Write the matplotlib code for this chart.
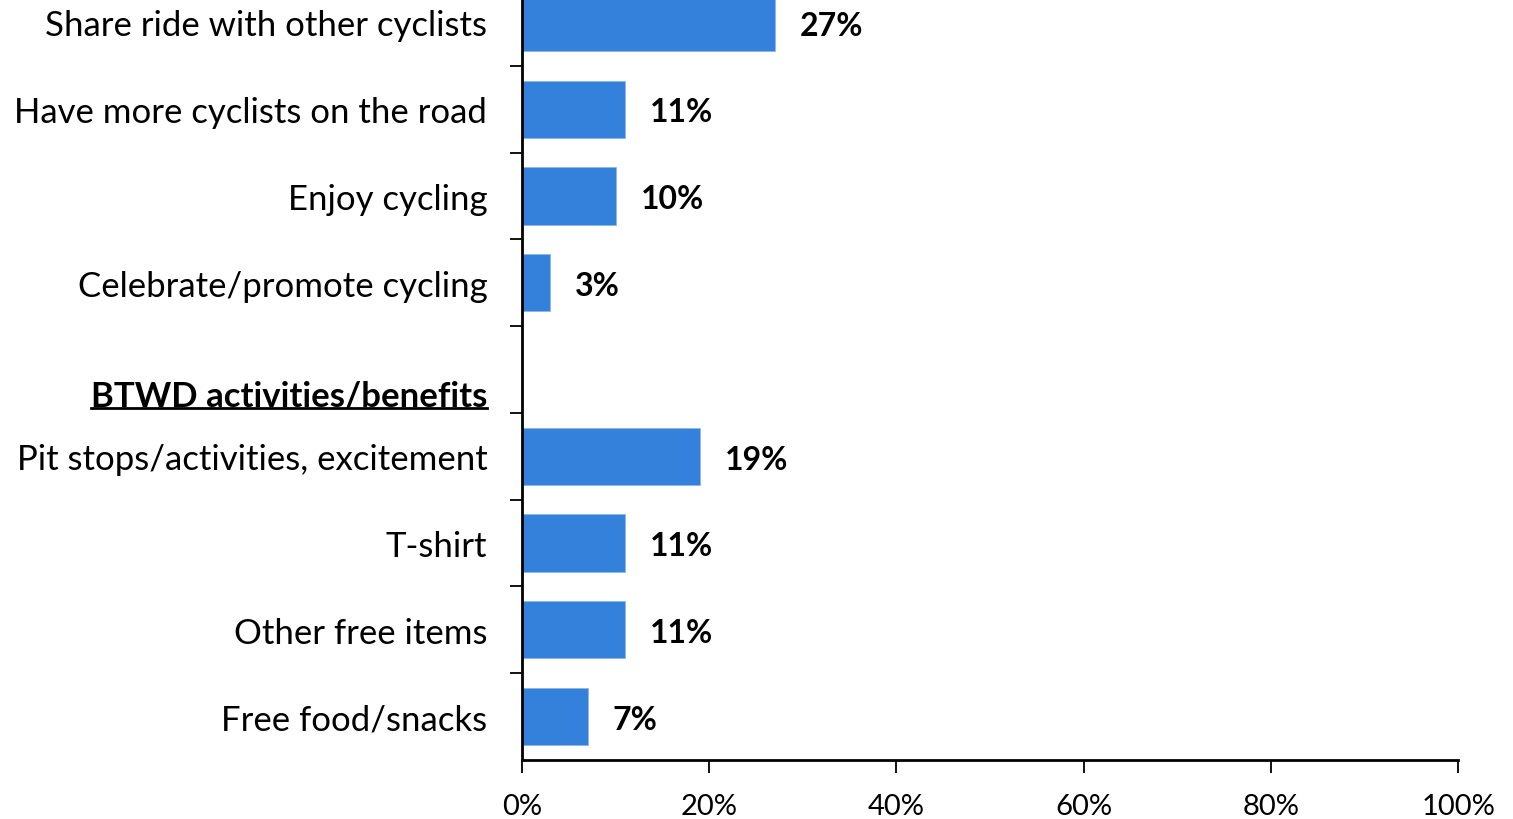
import numpy as np
import matplotlib.pyplot as plt
from matplotlib.lines import Line2D

categories = ['Share ride with other cyclists', 'Have more cyclists on the road',
              'Enjoy cycling', 'Celebrate/promote cycling',
              'BTWD activities/benefits',
              'Pit stops/activities, excitement', 'T-shirt',
              'Other free items', 'Free food/snacks']
values = [27, 11, 10, 3, None, 19, 11, 11, 7]
header_idx = 4
xticks = [0, 20, 40, 60, 80, 100]

plt.rcParams['font.family'] = ['Lato', 'DejaVu Sans']
color = '#3481DC'

fig = plt.figure(figsize=(15.13, 8.2), dpi=100)
ax = fig.add_axes([0.345, 0.072, 0.6187, 0.9524])

pos = np.arange(len(categories))
for i, v in enumerate(values):
    if v is None:
        continue
    ax.barh(i, v, height=0.66, color=color, edgecolor='#8fb6e8', linewidth=0.6)
    ax.annotate(f'{v}%', (v, i), xytext=(18, -2), textcoords='offset points',
                va='center', ha='left', fontsize=23, fontweight='bold')

ax.set_xlim(0, 100)
ax.set_ylim(len(categories) - 0.5, -0.5)

ax.set_xticks(xticks)
ax.set_xticklabels([f'{t}%' for t in xticks], fontsize=21)
ax.tick_params(axis='x', length=9, width=1.3, pad=15, direction='out')

label_pos = [p for p in pos if p != header_idx]
ax.set_yticks(label_pos)
ax.set_yticklabels([categories[p] for p in label_pos], fontsize=25)
ax.tick_params(axis='y', which='major', length=0, pad=25)
ax.set_yticks(np.arange(len(categories)) - 0.5, minor=True)
ax.tick_params(axis='y', which='minor', length=9, width=1.3, direction='out')

for s in ['top', 'right']:
    ax.spines[s].set_visible(False)
ax.spines['left'].set_linewidth(2)
ax.spines['bottom'].set_linewidth(2)

# section header, bold and underlined
hdr = ax.annotate(categories[header_idx], (0, header_idx + 0.3), xytext=(-25, 0),
                  textcoords='offset points', ha='right', va='center',
                  fontsize=25, fontweight='bold')
fig.canvas.draw()
bb = hdr.get_window_extent().transformed(fig.transFigure.inverted())
fig.add_artist(Line2D([bb.x0, bb.x1], [bb.y0 + 0.004, bb.y0 + 0.004],
                      transform=fig.transFigure, color='black', linewidth=2))

fig.savefig('out.png', dpi=100)
